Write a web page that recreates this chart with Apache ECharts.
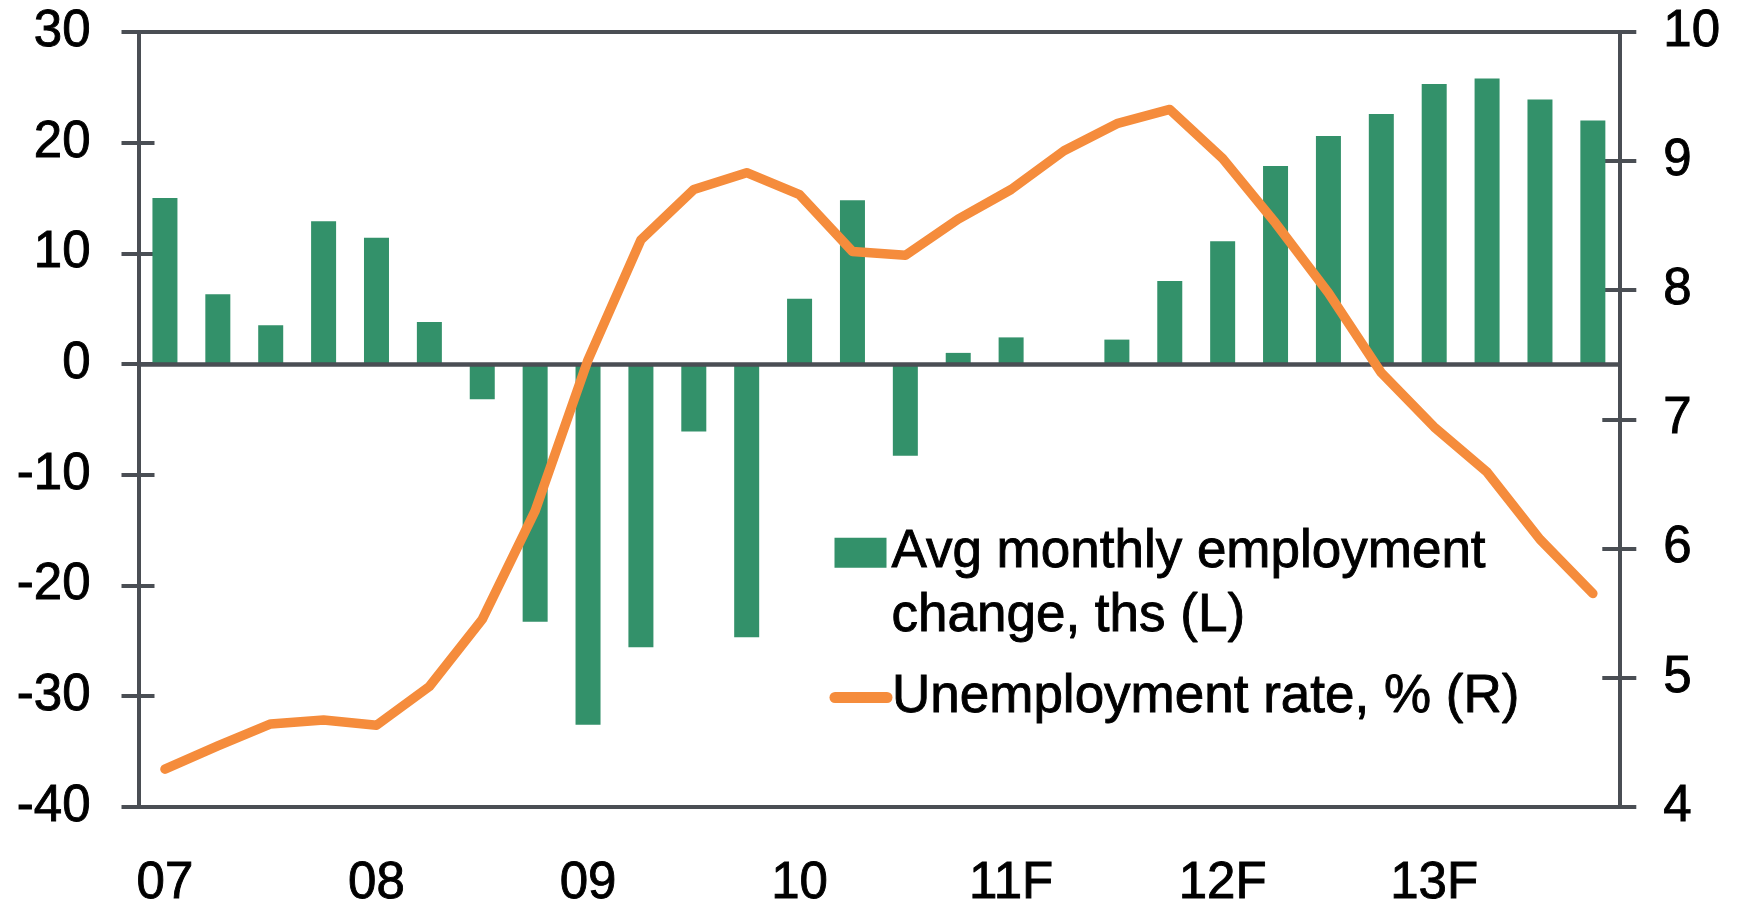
<!DOCTYPE html>
<html>
<head>
<meta charset="utf-8">
<script src="https://cdn.jsdelivr.net/npm/echarts@6/dist/echarts.min.js"></script>
<style>
  html, body { margin: 0; padding: 0; background: #ffffff; }
  #chart { width: 1740px; height: 910px; }
</style>
</head>
<body>
<div id="chart"></div>
<script>
// Quarterly periods, 2007 Q1 to 2013 Q4 (2011 onward forecast)
const quarters = [
  '07Q1', '07Q2', '07Q3', '07Q4',
  '08Q1', '08Q2', '08Q3', '08Q4',
  '09Q1', '09Q2', '09Q3', '09Q4',
  '10Q1', '10Q2', '10Q3', '10Q4',
  '11Q1', '11Q2', '11Q3', '11Q4',
  '12Q1', '12Q2', '12Q3', '12Q4',
  '13Q1', '13Q2', '13Q3', '13Q4'
];
// Year labels shown under the first quarter of each year
const yearLabels = ['07', '08', '09', '10', '11F', '12F', '13F'];

// Average monthly employment change, thousands (left axis)
const employmentChange = [
  15.0, 6.3, 3.5, 12.9,
  11.4, 3.8, -3.2, -23.3,
  -32.6, -25.6, -6.1, -24.7,
  5.9, 14.8, -8.3, 1.0,
  2.4, 0, 2.2, 7.5,
  11.1, 17.9, 20.6, 22.6,
  25.3, 25.8, 23.9, 22.0
];

// Unemployment rate, % (right axis)
const unemploymentRate = [
  4.29, 4.47, 4.64, 4.67,
  4.63, 4.93, 5.45, 6.29,
  7.46, 8.39, 8.78, 8.91,
  8.74, 8.30, 8.27, 8.55,
  8.78, 9.08, 9.29, 9.40,
  9.02, 8.52, 7.98, 7.36,
  6.94, 6.59, 6.07, 5.65
];

const seriesNames = ['Avg monthly employment\nchange, ths (L)', 'Unemployment rate, % (R)'];

const AXIS = '#4a4e54';
const GREEN = '#33916a';
const ORANGE = '#f58c3c';
const FONT = 'Liberation Sans, Arial, sans-serif';
const FS = 51;
// slight outline to give the labels their heavier print weight
const TEXT_EDGE = { textBorderColor: '#000', textBorderWidth: 0.9 };

const chart = echarts.init(document.getElementById('chart'), null, { renderer: 'canvas' });

function valueAxis(pos, min, max, step, tickInside, tickLen, showLabel, showLine, margin) {
  return {
    type: 'value',
    position: pos,
    min: min,
    max: max,
    interval: step,
    axisLine: { show: showLine, lineStyle: { color: AXIS, width: 4 } },
    axisTick: { show: true, inside: tickInside, length: tickLen, lineStyle: { color: AXIS, width: 4 } },
    axisLabel: Object.assign({
      show: showLabel,
      margin: margin,
      color: '#000',
      fontFamily: FONT,
      fontSize: FS
    }, TEXT_EDGE),
    splitLine: { show: false }
  };
}

const option = {
  animation: false,
  backgroundColor: '#ffffff',
  grid: { left: 138.5, right: 120.7, top: 32, bottom: 102 },
  xAxis: [
    {
      type: 'category',
      position: 'bottom',
      data: quarters,
      axisLine: { show: true, onZero: false, lineStyle: { color: AXIS, width: 4 } },
      axisTick: { show: false },
      axisLabel: Object.assign({
        interval: 0,
        margin: 52,
        color: '#000',
        fontFamily: FONT,
        fontSize: FS,
        formatter: function (v, i) { return i % 4 === 0 ? yearLabels[i / 4] : ''; }
      }, TEXT_EDGE),
      splitLine: { show: false }
    },
    {
      type: 'category',
      position: 'top',
      data: quarters,
      axisLine: { show: true, onZero: false, lineStyle: { color: AXIS, width: 4 } },
      axisTick: { show: false },
      axisLabel: { show: false },
      splitLine: { show: false }
    }
  ],
  yAxis: [
    valueAxis('left', -40, 30, 10, false, 17, true, true, 48),
    valueAxis('right', 4, 10, 1, false, 17, true, true, 44),
    valueAxis('left', -40, 30, 10, true, 16, false, false, 0),
    valueAxis('right', 4, 10, 1, true, 17, false, false, 0)
  ],
  legend: [
    {
      left: 834.5,
      top: 520.7,
      padding: 0,
      selectedMode: false,
      itemWidth: 52,
      itemHeight: 94,
      data: [{
        name: seriesNames[0],
        icon: 'path://M0,0L52,0L52,30L0,30Z M0,94L0.01,94L0,94Z'
      }],
      textStyle: Object.assign({ color: '#000', fontFamily: FONT, fontSize: 53, lineHeight: 64 }, TEXT_EDGE)
    },
    {
      left: 829.5,
      top: 667.5,
      padding: 0,
      selectedMode: false,
      itemWidth: 52,
      itemHeight: 12,
      data: [{ name: seriesNames[1] }],
      lineStyle: { width: 11, cap: 'round' },
      textStyle: Object.assign({ color: '#000', fontFamily: FONT, fontSize: 53, lineHeight: 60 }, TEXT_EDGE)
    }
  ],
  series: [
    {
      name: seriesNames[0],
      type: 'bar',
      xAxisIndex: 0,
      yAxisIndex: 0,
      barWidth: 25,
      itemStyle: { color: GREEN },
      data: employmentChange,
      markLine: {
        silent: true,
        symbol: 'none',
        label: { show: false },
        lineStyle: { color: AXIS, width: 4.5, type: 'solid' },
        data: [{ yAxis: 0 }],
        z: 3
      },
      z: 2
    },
    {
      name: seriesNames[1],
      type: 'line',
      xAxisIndex: 0,
      yAxisIndex: 1,
      symbol: 'none',
      lineStyle: { color: ORANGE, width: 9.5, cap: 'round', join: 'round' },
      itemStyle: { color: ORANGE },
      data: unemploymentRate,
      z: 5
    }
  ]
};

chart.setOption(option);
</script>
</body>
</html>
